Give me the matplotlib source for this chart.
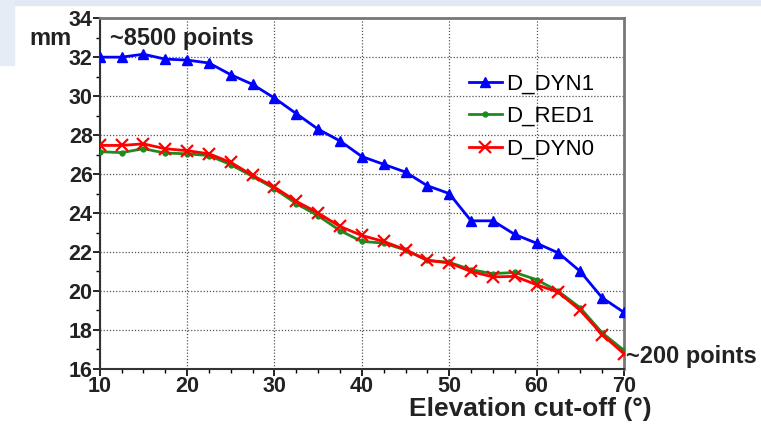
import matplotlib.pyplot as plt
from matplotlib.patches import Rectangle

# Elevation cut-off angles (deg)
elevation = [10, 12.5, 15, 17.5, 20, 22.5, 25, 27.5, 30, 32.5, 35, 37.5, 40,
             42.5, 45, 47.5, 50, 52.5, 55, 57.5, 60, 62.5, 65, 67.5, 70]

# Values in mm
d_dyn1 = [32.0, 32.0, 32.15, 31.9, 31.85, 31.7, 31.1, 30.6, 29.9, 29.1, 28.3, 27.7, 26.9,
          26.5, 26.1, 25.4, 25.0, 23.6, 23.6, 22.9, 22.45, 21.95, 21.0, 19.65, 18.9]
d_red1 = [27.15, 27.1, 27.3, 27.08, 27.04, 26.95, 26.48, 25.88, 25.25, 24.48, 23.86, 23.1, 22.54,
          22.46, 22.1, 21.57, 21.47, 21.09, 20.89, 20.95, 20.58, 19.98, 19.13, 17.85, 16.95]
d_dyn0 = [27.47, 27.47, 27.55, 27.3, 27.2, 27.04, 26.6, 25.93, 25.33, 24.6, 24.0, 23.31, 22.85,
          22.54, 22.12, 21.57, 21.44, 21.0, 20.72, 20.75, 20.32, 19.93, 19.0, 17.76, 16.78]

plt.rcParams['font.family'] = ['Liberation Sans', 'DejaVu Sans']

fig = plt.figure(figsize=(7.61, 4.33), dpi=100)

# light slide background strips
fig.patches.append(Rectangle((0, 0.988), 1, 0.012, transform=fig.transFigure,
                             color='#e2e9f4', zorder=0))
fig.patches.append(Rectangle((0, 0.85), 0.018, 0.15, transform=fig.transFigure,
                             color='#e6ecf6', zorder=0))

ax = fig.add_axes([0.131, 0.148, 0.689, 0.81])

ax.plot(elevation, d_dyn1, color='#0000ff', lw=2, marker='^', ms=7, label='D_DYN1', zorder=3)
ax.plot(elevation, d_red1, color='#1f8a1f', lw=2, marker='o', ms=3.5, label='D_RED1', zorder=4)
ax.plot(elevation, d_dyn0, color='#ff0000', lw=2, marker='x', ms=8, mew=1.6, label='D_DYN0', zorder=5)

ax.set_xlim(10, 70)
ax.set_ylim(16, 34)
ax.set_xticks(range(10, 71, 10))
ax.set_yticks(range(16, 35, 2))
ax.set_xticks([x for x in elevation if x % 10 != 0], minor=True)
ax.set_yticks(range(17, 34, 2), minor=True)
ax.grid(True, which='major', color='#555555', linestyle=(0, (1, 1.5)), lw=0.9)
ax.tick_params(which='major', length=5, width=1.2, labelsize=15.5, pad=0)
ax.tick_params(which='minor', length=3, width=1)
for lbl in ax.get_xticklabels() + ax.get_yticklabels():
    lbl.set_fontweight('bold')
    lbl.set_color('#222222')
for side in ['left', 'bottom']:
    ax.spines[side].set_linewidth(1.5)
    ax.spines[side].set_color('#333333')
for side in ['top', 'right']:
    ax.spines[side].set_linewidth(2)
    ax.spines[side].set_color('#777777')

ax.legend(loc='upper left', bbox_to_anchor=(0.695, 0.855), frameon=False, fontsize=16,
          handlelength=1.5, handletextpad=0.2, labelspacing=0.52, borderpad=0.2,
          borderaxespad=0)

fig.text(0.039, 0.897, 'mm', fontsize=17, fontweight='bold', color='#222222')
fig.text(0.145, 0.897, '~8500 points', fontsize=17, fontweight='bold', color='#222222')
fig.text(0.822, 0.162, '~200 points', fontsize=17, fontweight='bold', color='#222222')
fig.text(0.697, 0.04, 'Elevation cut-off (°)', fontsize=19, fontweight='bold',
         color='#222222', ha='center')

fig.savefig('out.png', dpi=100)
